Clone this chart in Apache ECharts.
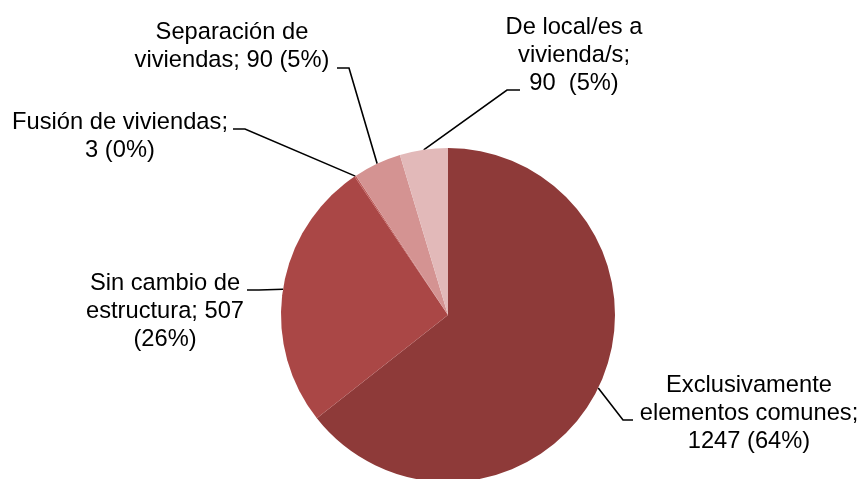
<!DOCTYPE html>
<html>
<head>
<meta charset="utf-8">
<script src="https://cdn.jsdelivr.net/npm/echarts@6/dist/echarts.min.js"></script>
<style>
html, body { margin: 0; padding: 0; background: #fff; }
#chart { width: 861px; height: 479px; }
</style>
</head>
<body>
<div id="chart"></div>
<script>
const categories = ['Exclusivamente elementos comunes', 'Sin cambio de estructura', 'Fusión de viviendas', 'Separación de viviendas', 'De local/es a vivienda/s'];
const values = [1247, 507, 3, 90, 90];
const colors = ['#8e3a39', '#aa4746', '#bd5957', '#d49392', '#e2b9b9'];
// textos de etiqueta con los saltos de línea del original
const labelFormats = [
    'Exclusivamente\nelementos comunes;\n{c} ({d}%)',
    'Sin cambio de\nestructura; {c}\n({d}%)',
    'Fusión de viviendas;\n{c} ({d}%)',
    'Separación de\nviviendas; {c} ({d}%)',
    'De local/es a\nvivienda/s;\n{c}  ({d}%)'
];
// centro de cada etiqueta y punto donde termina la línea guía (x, y, largo del tramo horizontal)
const labelPos = [[749, 413], [165, 311], [120, 136], [232, 46], [574, 55]];
const lineAnchor = [[633, 420, -10], [247, 290, 12], [233, 129, 12], [337, 68, 12], [520, 90, -13]];

let myChart = echarts.init(document.getElementById('chart'));
myChart.setOption({
    animation: false,
    series: [{
        type: 'pie',
        center: [448, 315],
        radius: 167,
        startAngle: 90,
        clockwise: true,
        percentPrecision: 0,
        avoidLabelOverlap: false,
        emphasis: { disabled: true },
        label: {
            show: true,
            position: 'outside',
            color: '#000',
            fontFamily: 'Liberation Sans, Arial, sans-serif',
            fontSize: 23.7,
            lineHeight: 28
        },
        labelLine: {
            show: true,
            length: 20,
            length2: 12,
            lineStyle: { color: '#000', width: 1.6 }
        },
        labelLayout: function (p) {
            const i = p.dataIndex;
            const a = lineAnchor[i];
            const out = { x: labelPos[i][0], y: labelPos[i][1], align: 'center', verticalAlign: 'middle' };
            if (p.labelLinePoints) {
                const edge = p.labelLinePoints[0];
                out.labelLinePoints = [edge, [a[0] + a[2], a[1]], [a[0], a[1]]];
            }
            return out;
        },
        data: categories.map((name, i) => ({
            name: name,
            value: values[i],
            itemStyle: { color: colors[i] },
            label: { formatter: labelFormats[i] }
        }))
    }]
});
</script>
</body>
</html>
